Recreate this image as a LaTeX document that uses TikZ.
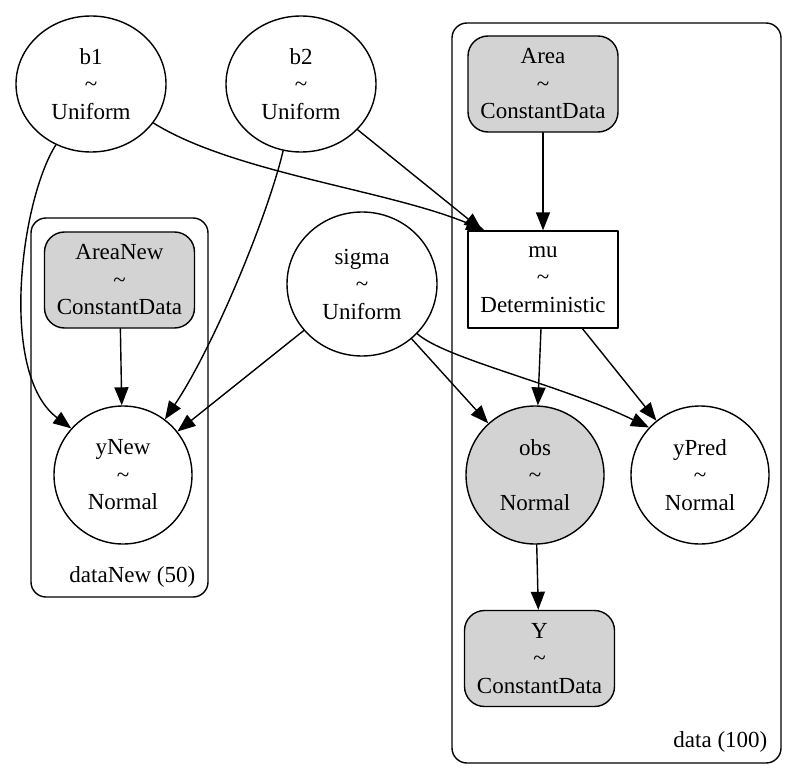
\documentclass[tikz,border=0pt]{standalone}
\usepackage{fontspec}
\setmainfont{Liberation Serif}
\usetikzlibrary{shapes.geometric,arrows.meta}
\definecolor{obsgray}{RGB}{211,211,211}

\begin{document}
\begin{tikzpicture}[x=1pt,y=-1pt,line cap=round,line join=round,line width=1.4pt,
  every node/.style={font=\fontsize{23}{27.5}\selectfont,align=center,inner sep=0pt},
  rvnode/.style={draw,ellipse,minimum width=150pt,minimum height=136pt},
  normnode/.style={draw,circle,minimum size=138pt},
  datanode/.style={draw,fill=obsgray,rounded corners=20pt,minimum width=150pt,minimum height=96pt},
  detnode/.style={draw,rectangle,minimum width=150pt,minimum height=97pt},
  plate/.style={draw,rounded corners=15pt},
  edge/.style={-{Triangle[length=18pt,width=14pt]},line width=1.4pt}]
  \useasboundingbox (0,0) rectangle (797,773);
  % plates
  \draw[plate] (452,23) rectangle (781,763);
  \draw[plate] (31,218) rectangle (208,597);
  \node[anchor=base east] (datalbl) at (768,747) {data (100)};
  \node[anchor=base east] (newlbl) at (196,582) {dataNew (50)};
  % free variables
  \node[rvnode] (b1) at (91,84) {b1\\\textasciitilde\\Uniform};
  \node[rvnode] (b2) at (301,84) {b2\\\textasciitilde\\Uniform};
  \node[rvnode,minimum height=144pt] (sigma) at (362,284) {sigma\\\textasciitilde\\Uniform};
  % data plate
  \node[datanode] (area) at (543,84) {Area\\\textasciitilde\\ConstantData};
  \node[detnode] (mu) at (543,279.5) {mu\\\textasciitilde\\Deterministic};
  \node[normnode,fill=obsgray] (obs) at (535,475) {obs\\\textasciitilde\\Normal};
  \node[normnode] (ypred) at (700,475) {yPred\\\textasciitilde\\Normal};
  \node[datanode] (y) at (539.5,658.5) {Y\\\textasciitilde\\ConstantData};
  % dataNew plate
  \node[datanode] (areanew) at (119.5,280) {AreaNew\\\textasciitilde\\ConstantData};
  \node[normnode] (ynew) at (123,475) {yNew\\\textasciitilde\\Normal};
  % edges
  \draw[edge] (b1.-32) .. controls +(80,50) and +(-95,-40) .. (mu.140);
  \draw[edge] (b2) -- (mu);
  \draw[edge] (area) -- (mu);
  \draw[edge] (b1.240) .. controls +(-35,55) and +(-73,-55) .. (ynew.138);
  \draw[edge] (b2.255) .. controls +(-15,64) and +(49,-73) .. (ynew.53);
  \draw[edge] (areanew) -- (ynew);
  \draw[edge] (sigma) -- (ynew);
  \draw[edge] (sigma) -- (obs);
  \draw[edge] (sigma.-42) .. controls +(28,25) and +(-89,-43) .. (ypred.137);
  \draw[edge] (mu) -- (obs);
  \draw[edge] (mu) -- (ypred);
  \draw[edge] (obs) -- (y);
\end{tikzpicture}
\end{document}
